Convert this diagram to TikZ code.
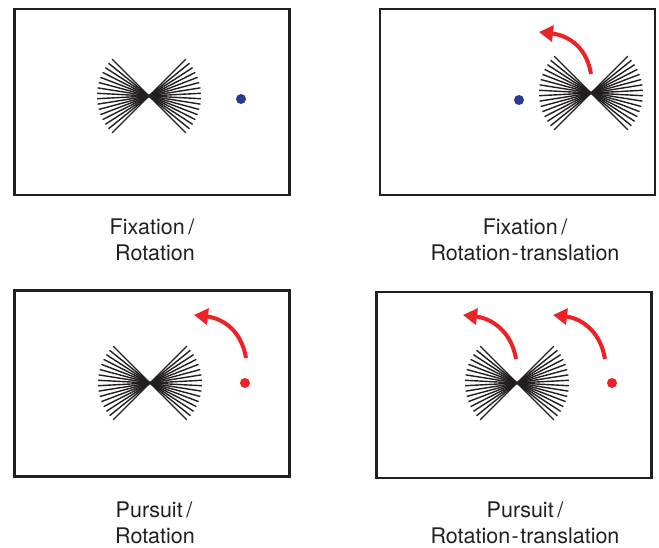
\documentclass[tikz,border=0pt]{standalone}
\usepackage{fontspec}
\setmainfont{TeX Gyre Heros}
\usetikzlibrary{arrows.meta}
\definecolor{ink}{RGB}{35,31,32}
\definecolor{motred}{RGB}{236,34,39}
\definecolor{fixblue}{RGB}{44,57,146}
\tikzset{
  frame/.style={draw=ink, line width=2.4pt, minimum width=275pt, minimum height=186pt, inner sep=0pt, outer sep=0pt},
  fanline/.style={draw=ink, line width=1.4pt},
  target/.style={circle, inner sep=0pt, minimum size=10pt},
  motion/.style={draw=motred, line width=4pt, -{Triangle[length=14pt,width=16pt]}},
  caption/.style={anchor=base, text=ink, font=\fontsize{21.5}{25}\selectfont, inner sep=0pt}
}
\newcommand\fanat[1]{%
  \foreach \i in {0,...,15}{%
    \pgfmathsetmacro\ang{-45+\i*90/15}%
    \draw[fanline] (#1) -- +(\ang:52);
    \draw[fanline] (#1) -- +(180+\ang:52);
  }}
\newcommand\rt{Rotation\kern1.5pt-\kern1.5pt translation}
\begin{document}
\begin{tikzpicture}[x=1pt,y=-1pt]
\useasboundingbox (0,0) rectangle (659,548);
% frames
\node[frame] (box1) at (152,102) {};
\node[frame] (box2) at (517.5,102) {};
\node[frame] (box3) at (152,383.5) {};
\node[frame] (box4) at (514,385) {};
% fan centres
\coordinate (f1) at (149,96);
\coordinate (f2) at (591,93);
\coordinate (f3) at (150,383);
\coordinate (f4) at (517,383);
\fanat{f1}
\fanat{f2}
\fanat{f3}
\fanat{f4}
% targets
\node[target, fill=fixblue] (d1) at (241,99) {};
\node[target, fill=fixblue] (d2) at (519,100) {};
\node[target, fill=motred] (d3) at (245,383) {};
\node[target, fill=motred] (d4) at (612,383) {};
% motion arrows
\coordinate (a2s) at (591,74);
\coordinate (a2e) at (539,32);
\coordinate (a3s) at (246,358);
\coordinate (a3e) at (194,315);
\coordinate (a4s) at (516,359);
\coordinate (a4e) at (463,315);
\coordinate (a5s) at (605,359);
\coordinate (a5e) at (553,315);
\draw[motion] (a2s) .. controls +(-5,-30) and +(26,3) .. (a2e);
\draw[motion] (a3s) .. controls +(-5,-30) and +(26,3) .. (a3e);
\draw[motion] (a4s) .. controls +(-5,-30) and +(26,3) .. (a4e);
\draw[motion] (a5s) .. controls +(-5,-30) and +(26,3) .. (a5e);
% captions
\node[caption] (c1a) at (152,235) {Fixation\,/};
\node[caption] (c1b) at (155,261) {Rotation};
\node[caption] (c2a) at (525,235) {Fixation\,/};
\node[caption] (c2b) at (525,261) {\rt};
\node[caption] (c3a) at (154,517) {Pursuit\,/};
\node[caption] (c3b) at (155,543) {Rotation};
\node[caption] (c4a) at (525,517) {Pursuit\,/};
\node[caption] (c4b) at (525,543) {\rt};
\end{tikzpicture}
\end{document}
